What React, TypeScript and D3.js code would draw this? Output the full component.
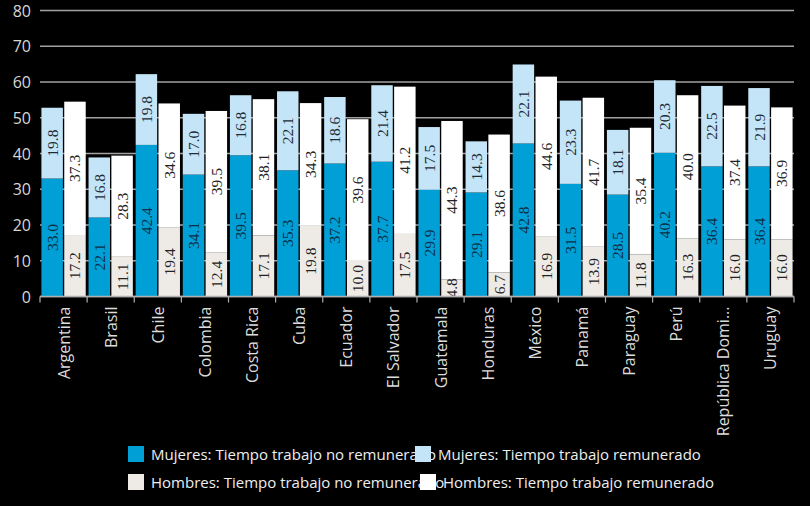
import React from "react";
import * as d3 from "d3";

const countries = [
  "Argentina", "Brasil", "Chile", "Colombia", "Costa Rica", "Cuba", "Ecuador",
  "El Salvador", "Guatemala", "Honduras", "México", "Panamá", "Paraguay", "Perú",
  "República Domi...", "Uruguay",
];
const mujeresNoRem = [33.0, 22.1, 42.4, 34.1, 39.5, 35.3, 37.2, 37.7, 29.9, 29.1, 42.8, 31.5, 28.5, 40.2, 36.4, 36.4];
const mujeresRem = [19.8, 16.8, 19.8, 17.0, 16.8, 22.1, 18.6, 21.4, 17.5, 14.3, 22.1, 23.3, 18.1, 20.3, 22.5, 21.9];
const hombresNoRem = [17.2, 11.1, 19.4, 12.4, 17.1, 19.8, 10.0, 17.5, 4.8, 6.7, 16.9, 13.9, 11.8, 16.3, 16.0, 16.0];
const hombresRem = [37.3, 28.3, 34.6, 39.5, 38.1, 34.3, 39.6, 41.2, 44.3, 38.6, 44.6, 41.7, 35.4, 40.0, 37.4, 36.9];
const yTicks = [0, 10, 20, 30, 40, 50, 60, 70, 80];
const legendLabels = [
  "Mujeres: Tiempo trabajo no remunerado",
  "Mujeres: Tiempo trabajo remunerado",
  "Hombres: Tiempo trabajo no remunerado",
  "Hombres: Tiempo trabajo remunerado",
];

const C_BLUE = "#009fd6";
const C_LBLUE = "#c4e5f7";
const C_GRAY = "#eeebe7";
const C_WHITE = "#ffffff";
const legendColors = [C_BLUE, C_LBLUE, C_GRAY, C_WHITE];
const legendX = [128, 415, 128, 420];
const legendY = [454, 454, 482, 482];

const W = 810;
const H = 506;

export default function App() {
  const x = d3.scaleBand<string>().domain(countries).range([40, 794]).paddingInner(0.06).paddingOuter(0.03);
  const sub = d3.scaleBand<string>().domain(["M", "H"]).range([0, x.bandwidth()]).paddingInner(0.06);
  const y = d3.scaleLinear().domain([0, 80]).range([296.5, 10.5]);
  const step = x.step();

  const segs: { key: string; x: number; w: number; y0: number; y1: number; v: number; fill: string; tc: string }[] = [];
  countries.forEach((c, i) => {
    const gx = x(c)!;
    const mx = gx + sub("M")!;
    const hx = gx + sub("H")!;
    const w = sub.bandwidth();
    segs.push({ key: c + "m0", x: mx, w, y0: 0, y1: mujeresNoRem[i], v: mujeresNoRem[i], fill: C_BLUE, tc: "#0e2f45" });
    segs.push({ key: c + "m1", x: mx, w, y0: mujeresNoRem[i], y1: mujeresNoRem[i] + mujeresRem[i], v: mujeresRem[i], fill: C_LBLUE, tc: "#1d2b36" });
    segs.push({ key: c + "h0", x: hx, w, y0: 0, y1: hombresNoRem[i], v: hombresNoRem[i], fill: C_GRAY, tc: "#222" });
    segs.push({ key: c + "h1", x: hx, w, y0: hombresNoRem[i], y1: hombresNoRem[i] + hombresRem[i], v: hombresRem[i], fill: C_WHITE, tc: "#222" });
  });

  const sans = "'Open Sans', 'Noto Sans', sans-serif";

  return (
    <svg width={W} height={H} style={{ position: "absolute", left: 0, top: 0, display: "block" }}>
      <rect x={0} y={0} width={W} height={H} fill="#000" />
      {yTicks.map((t) => (
        <g key={t}>
          <line x1={40} x2={794} y1={y(t)} y2={y(t)} stroke="#a2a2a2" strokeWidth={1.5} />
          <text x={31} y={y(t)} textAnchor="end" dominantBaseline="central" fill="#d6d6d6" fontFamily={sans} fontSize={16}>
            {t}
          </text>
        </g>
      ))}
      {segs.map((s) => (
        <rect key={s.key} x={s.x} y={y(s.y1)} width={s.w} height={y(s.y0) - y(s.y1)} fill={s.fill} />
      ))}
      {segs.map((s) => {
        const cx = s.x + s.w / 2;
        const cy = (y(s.y0) + y(s.y1)) / 2;
        return (
          <text
            key={s.key + "t"}
            transform={`translate(${cx},${cy}) rotate(-90)`}
            textAnchor="middle"
            dominantBaseline="central"
            fill={s.tc}
            fontFamily="'Liberation Serif', 'DejaVu Serif', serif"
            fontSize={15.5}
          >
            {s.v.toFixed(1)}
          </text>
        );
      })}
      <line x1={40} x2={794} y1={y(0)} y2={y(0)} stroke="#b0b0b0" strokeWidth={1.5} />
      {d3.range(countries.length + 1).map((i) => (
        <line key={"tk" + i} x1={40 + i * step} x2={40 + i * step} y1={y(0)} y2={y(0) + 6} stroke="#b0b0b0" strokeWidth={1.2} />
      ))}
      {countries.map((c) => (
        <text
          key={c + "lbl"}
          transform={`translate(${x(c)! + x.bandwidth() / 2},${y(0) + 10}) rotate(-90)`}
          textAnchor="end"
          dominantBaseline="central"
          fill="#dcdcdc"
          fontFamily={sans}
          fontSize={16}
        >
          {c}
        </text>
      ))}
      {legendLabels.map((l, i) => (
        <g key={l}>
          <rect x={legendX[i]} y={legendY[i] - 8} width={16} height={16} fill={legendColors[i]} />
          <text x={legendX[i] + 23} y={legendY[i]} dominantBaseline="central" fill="#eeeeee" fontFamily={sans} fontSize={15}>
            {l}
          </text>
        </g>
      ))}
    </svg>
  );
}
